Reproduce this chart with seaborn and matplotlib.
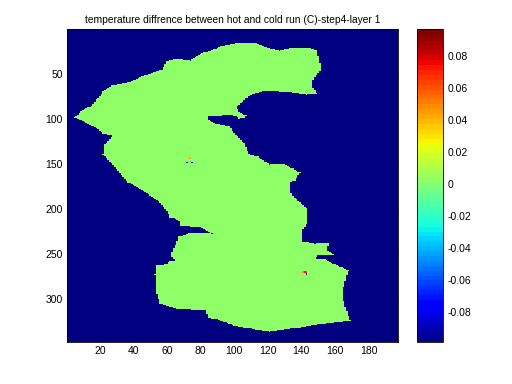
import numpy as np
import seaborn as sns
import matplotlib as mpl
import matplotlib.pyplot as plt
from matplotlib.path import Path

# lake outline (column, row)
shore_x = [5, 9, 15, 18, 22, 27, 37, 45, 52, 57, 60, 65, 74, 82, 92, 104, 113, 119, 127, 135, 143, 149, 150, 152,
           148, 146, 147, 149, 143, 135, 119, 110, 105, 101, 103, 107, 106, 103, 99, 92, 85, 84, 88, 97, 100, 106,
           109, 114, 121, 129, 135, 139, 136, 133, 134, 137, 143, 143, 140, 140, 148, 157, 155, 159, 151, 148, 154,
           160, 168, 166, 164, 166, 169, 159, 145, 133, 121, 113, 100, 92, 85, 83, 66, 56, 54, 53, 54, 59, 62, 65,
           62, 65, 67, 74, 87, 80, 68, 67, 62, 59, 54, 45, 40, 37, 27, 22, 23, 28, 22, 17, 11]
shore_y = [99, 92, 86, 79, 70, 63, 60, 53, 49, 46, 36, 33, 35, 27, 20, 16, 17, 21, 24, 21, 21, 24, 31, 46,
           53, 59, 66, 72, 73, 71, 69, 73, 81, 87, 93, 96, 99, 100, 95, 96, 96, 100, 105, 108, 116, 127,
           140, 142, 151, 150, 155, 160, 168, 172, 183, 190, 199, 216, 225, 236, 238, 237, 246, 250, 250, 255, 256,
           262, 268, 279, 294, 309, 324, 326, 329, 333, 336, 334, 329, 324, 320, 312, 310, 305, 294, 273, 262, 262, 257, 257,
           251, 240, 231, 226, 227, 220, 218, 213, 209, 199, 190, 179, 173, 171, 149, 140, 129, 118, 116, 109, 103]

# isolated cells that differ from the rest
spot_x = [73, 74, 73, 74, 72, 75,
          141, 142, 143, 141, 142, 143, 143, 143, 139, 146, 142, 145]
spot_y = [143, 143, 144, 144, 149, 149,
          269, 269, 269, 270, 270, 270, 272, 273, 264, 274, 283, 280]
spot_val = [0.036, 0.04, 0.04, 0.044, -0.075, -0.075,
            0.05, 0.07, 0.06, 0.05, 0.075, 0.07, -0.07, -0.07, -0.006, 0.012, -0.006, -0.004]

water_val = -0.0985
lake_val = 0.004
x_ticks = [20, 40, 60, 80, 100, 120, 140, 160, 180]
y_ticks = [50, 100, 150, 200, 250, 300]
cbar_ticks = [-0.08, -0.06, -0.04, -0.02, 0, 0.02, 0.04, 0.06, 0.08]
cbar_labels = ['-0.08', '-0.06', '-0.04', '-0.02', '0', '0.02', '0.04', '0.06', '0.08']

sns.set_style('ticks')
plt.rcParams['font.family'] = ['Liberation Sans', 'DejaVu Sans']

cols, rows = np.meshgrid(np.arange(1, 198), np.arange(1, 348))
inside = Path(np.column_stack([shore_x, shore_y])).contains_points(np.column_stack([cols.ravel(), rows.ravel()]))
grid = np.where(inside.reshape(cols.shape), lake_val, water_val)
for sx, sy, sv in zip(spot_x, spot_y, spot_val):
    grid[sy - 1, sx - 1] = sv

fig = plt.figure(figsize=(5.12, 3.84), dpi=100)
ax = fig.add_axes([67 / 512, 1 - 342 / 384, 331 / 512, 313 / 384])
cax = fig.add_axes([417 / 512, 1 - 342 / 384, 26 / 512, 313 / 384])
sns.heatmap(grid, cmap=mpl.colormaps['jet'].resampled(64), vmin=-0.0985, vmax=0.097, ax=ax, cbar_ax=cax,
            xticklabels=False, yticklabels=False, rasterized=True)

ax.set_xticks(np.array(x_ticks) - 0.5, labels=[str(t) for t in x_ticks], rotation=0)
ax.set_yticks(np.array(y_ticks) - 0.5, labels=[str(t) for t in y_ticks], rotation=0)
ax.tick_params(direction='in', length=3, width=0.5, labelsize=7.5, top=True, right=True, pad=3,
               color='black', labelcolor='black')
for s in ax.spines.values():
    s.set_visible(True)
    s.set_linewidth(0.6)
    s.set_color('black')
ax.set_title('temperature diffrence between hot and cold run (C)-step4-layer 1', fontsize=7.4, pad=4, color='black')

cb = ax.collections[0].colorbar
cb.set_ticks(cbar_ticks, labels=cbar_labels)
cb.solids.set_edgecolor('face')
cb.outline.set_visible(True)
cb.outline.set_linewidth(0.6)
cb.outline.set_edgecolor('black')
cax.tick_params(direction='in', length=3, width=0.5, labelsize=7.5, left=True, right=True, pad=3,
                color='black', labelcolor='black')

fig.savefig('out.png', dpi=100)
